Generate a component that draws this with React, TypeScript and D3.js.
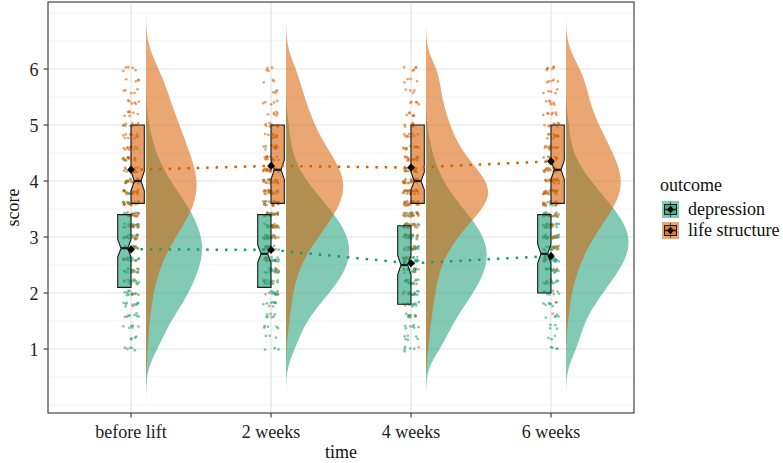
import React, { useMemo } from "react";
import * as d3 from "d3";

// time points and outcomes
const times = ["before lift", "2 weeks", "4 weeks", "6 weeks"];
const outcomes = ["depression", "life structure"];
const colors = ["#1B9E77", "#D95F02"];

// score levels the item means fall on
const levels = [
  1.0, 1.2, 1.4, 1.6, 1.8, 2.0, 2.2, 2.4, 2.6, 2.8, 3.0, 3.2, 3.4, 3.6, 3.8, 4.0,
  4.2, 4.4, 4.6, 4.8, 5.0, 5.2, 5.4, 5.6, 5.8, 6.0,
];

// number of respondents at each level, per time
const depressionCounts = [
  [4, 4, 5, 7, 9, 11, 12, 13, 14, 15, 14, 13, 12, 10, 8, 6, 4, 3, 2, 1, 1, 0, 0, 0, 0, 0],
  [3, 3, 4, 6, 8, 11, 13, 15, 16, 16, 16, 14, 12, 10, 7, 5, 3, 2, 1, 1, 1, 0, 0, 0, 0, 0],
  [5, 5, 6, 8, 10, 12, 14, 15, 16, 16, 15, 13, 11, 8, 6, 4, 3, 2, 1, 1, 0, 0, 0, 0, 0, 0],
  [4, 3, 4, 5, 7, 9, 11, 13, 15, 16, 16, 15, 13, 11, 8, 6, 4, 2, 1, 1, 1, 0, 0, 0, 0, 0],
];
const lifeCounts = [
  [1, 0, 1, 1, 1, 2, 2, 3, 4, 5, 7, 9, 11, 12, 13, 13, 12, 11, 10, 9, 8, 7, 6, 5, 4, 5],
  [0, 0, 1, 1, 1, 2, 2, 3, 4, 6, 8, 10, 12, 14, 15, 15, 14, 12, 10, 8, 7, 6, 5, 4, 3, 4],
  [1, 1, 1, 2, 2, 3, 3, 4, 5, 7, 9, 12, 15, 19, 20, 19, 15, 12, 10, 8, 7, 6, 5, 4, 4, 5],
  [0, 0, 0, 1, 1, 1, 2, 3, 4, 5, 7, 9, 11, 13, 15, 15, 14, 13, 11, 10, 8, 7, 6, 5, 5, 6],
];

// boxplot summaries
const depQ1 = [2.1, 2.1, 1.8, 2.0];
const depMedian = [2.8, 2.7, 2.5, 2.7];
const depQ3 = [3.4, 3.4, 3.2, 3.4];
const lifeQ1 = [3.6, 3.6, 3.6, 3.6];
const lifeMedian = [4.0, 4.2, 4.0, 4.2];
const lifeQ3 = [5.0, 5.0, 5.0, 5.0];

// group means
const depMean = [2.78, 2.77, 2.53, 2.66];
const lifeMean = [4.2, 4.27, 4.24, 4.35];

const yTicks = [1, 2, 3, 4, 5, 6];

const W = 783,
  H = 463;
const left = 48,
  right = 634,
  top = 2,
  bottom = 413;
const FONT = "'Liberation Serif', 'Times New Roman', Times, serif";

const x = d3.scalePoint().domain(times).range([left, right]).padding(0.593);
const y = d3.scaleLinear().domain([0, 7]).range([405, 13]);

function expand(counts) {
  const v = [];
  counts.forEach((c, i) => {
    for (let k = 0; k < c; k++) v.push(levels[i]);
  });
  return v;
}

function kde(values) {
  const n = values.length;
  const sd = d3.deviation(values);
  const iqr = d3.quantile(values, 0.75) - d3.quantile(values, 0.25);
  const bw = 0.9 * Math.min(sd, iqr / 1.34) * Math.pow(n, -0.2);
  const lo = d3.min(values) - 3 * bw,
    hi = d3.max(values) + 3 * bw;
  const grid = d3.range(0, 257).map((i) => lo + ((hi - lo) * i) / 256);
  return grid.map((g) => ({
    s: g,
    d:
      d3.sum(values, (v) => Math.exp(-0.5 * ((g - v) / bw) ** 2)) /
      (n * bw * Math.sqrt(2 * Math.PI)),
  }));
}

// deterministic jitter offset in [-1, 1]
const hash = (k) => {
  const s = Math.sin(k * 12.9898 + 78.233) * 43758.5453;
  return (s - Math.floor(s)) * 2 - 1;
};

export default function App() {
  const groups = useMemo(() => {
    return [depressionCounts, lifeCounts].map((set, o) =>
      set.map((counts, t) => {
        const values = expand(counts);
        return { o, t, values, dens: kde(values) };
      })
    );
  }, []);

  const maxD = d3.max(groups.flat(), (g) => d3.max(g.dens, (p) => p.d));
  const wScale = d3.scaleLinear().domain([0, maxD]).range([0, 63]);

  const stats = [
    { q1: depQ1, med: depMedian, q3: depQ3, mean: depMean },
    { q1: lifeQ1, med: lifeMedian, q3: lifeQ3, mean: lifeMean },
  ];

  // jittered points
  const pts = [];
  let k = 0;
  groups.forEach((set) =>
    set.forEach((g) => {
      g.values.forEach((v) => {
        k++;
        pts.push({
          cx: x(times[g.t]) + hash(k) * 8,
          cy: y(v + hash(k + 5000) * 0.04),
          o: g.o,
        });
      });
    })
  );

  const minor = d3.range(0, 7.01, 0.5).filter((v) => !yTicks.includes(v));

  const boxW = 13.3;
  const boxPath = (x0, x1, q1, med, q3, notch) => {
    const cx = (x0 + x1) / 2,
      nw = (x1 - x0) / 4;
    return `M${x0},${y(q3)}L${x1},${y(q3)}L${x1},${y(med + notch)}L${cx + nw},${y(
      med
    )}L${x1},${y(med - notch)}L${x1},${y(q1)}L${x0},${y(q1)}L${x0},${y(
      med - notch
    )}L${cx - nw},${y(med)}L${x0},${y(med + notch)}Z`;
  };

  const diamond = (cx, cy, r = 3.8) =>
    `M${cx},${cy - r * 1.1}L${cx + r},${cy}L${cx},${cy + r * 1.1}L${cx - r},${cy}Z`;

  const meanLine = d3
    .line()
    .x((d, i) => x(times[i]))
    .y((d) => y(d));

  return (
    <svg
      width={W}
      height={H}
      style={{ position: "absolute", left: 0, top: 0, background: "#fff", fontFamily: FONT }}
    >
      <rect x={left} y={top} width={right - left} height={bottom - top} fill="#fff" />
      {minor.map((v) => (
        <line key={"mn" + v} x1={left} x2={right} y1={y(v)} y2={y(v)} stroke="#EBEBEB" strokeWidth={0.6} />
      ))}
      {yTicks.map((v) => (
        <line key={"mj" + v} x1={left} x2={right} y1={y(v)} y2={y(v)} stroke="#E3E3E3" strokeWidth={1.2} />
      ))}
      {times.map((t) => (
        <line key={"vx" + t} x1={x(t)} x2={x(t)} y1={top} y2={bottom} stroke="#E3E3E3" strokeWidth={1.2} />
      ))}

      {/* points */}
      {pts.map((p, i) => (
        <circle key={i} cx={p.cx} cy={p.cy} r={1.4} fill={colors[p.o]} fillOpacity={0.55} />
      ))}

      {/* boxes */}
      {stats.map((s, o) =>
        times.map((t, i) => {
          const cx = x(t);
          const x0 = o === 0 ? cx - boxW : cx;
          const x1 = x0 + boxW;
          const n = groups[o][i].values.length;
          const notch = (1.58 * (s.q3[i] - s.q1[i])) / Math.sqrt(n);
          const c = (x0 + x1) / 2;
          return (
            <g key={"b" + o + i}>
              <path
                d={boxPath(x0, x1, s.q1[i], s.med[i], s.q3[i], notch)}
                fill={colors[o]}
                fillOpacity={0.6}
                stroke="#1a1a1a"
                strokeWidth={1.1}
              />
              <line x1={c - boxW / 4} x2={c + boxW / 4} y1={y(s.med[i])} y2={y(s.med[i])} stroke="#1a1a1a" strokeWidth={2.2} />
            </g>
          );
        })
      )}

      {/* half densities */}
      {groups.map((set, o) =>
        set.map((g) => {
          const base = x(times[g.t]) + 15;
          const area = d3
            .area()
            .y((p) => y(p.s))
            .x0(base)
            .x1((p) => base + wScale(p.d));
          return <path key={"d" + o + g.t} d={area(g.dens)} fill={colors[o]} fillOpacity={0.55} />;
        })
      )}

      {/* mean lines and points */}
      {stats.map((s, o) => (
        <path
          key={"ml" + o}
          d={meanLine(s.mean)}
          fill="none"
          stroke={colors[o]}
          strokeWidth={2.5}
          strokeDasharray="2.5 6.9"
        />
      ))}
      {stats.map((s, o) =>
        s.mean.map((m, i) => <path key={"mp" + o + i} d={diamond(x(times[i]), y(m))} fill="#000" />)
      )}

      <rect x={left} y={top} width={right - left} height={bottom - top} fill="none" stroke="#333" strokeWidth={1.1} />

      {/* y axis */}
      {yTicks.map((v) => (
        <g key={"yt" + v}>
          <line x1={left - 4.5} x2={left} y1={y(v)} y2={y(v)} stroke="#333" strokeWidth={1.1} />
          <text x={38.5} y={y(v) + 6.5} textAnchor="end" fontSize={18} fill="#222">
            {v}
          </text>
        </g>
      ))}
      <text transform={`translate(19,${(top + bottom) / 2}) rotate(-90)`} textAnchor="middle" fontSize={18} fill="#111">
        score
      </text>

      {/* x axis */}
      {times.map((t) => (
        <g key={"xt" + t}>
          <line x1={x(t)} x2={x(t)} y1={bottom} y2={bottom + 4.5} stroke="#333" strokeWidth={1.1} />
          <text x={x(t)} y={438} textAnchor="middle" fontSize={18} fill="#222">
            {t}
          </text>
        </g>
      ))}
      <text x={(left + right) / 2} y={458} textAnchor="middle" fontSize={18} fill="#111">
        time
      </text>

      {/* legend */}
      <text x={660} y={191} fontSize={18} fill="#111">
        outcome
      </text>
      {outcomes.map((name, o) => {
        const ky = 201 + o * 21;
        const kx = 662;
        const cx = kx + 8.5,
          cy = ky + 8.5;
        return (
          <g key={"lg" + name}>
            <rect x={kx} y={ky} width={17} height={17} fill={colors[o]} fillOpacity={0.55} />
            <line x1={cx} x2={cx} y1={ky + 1} y2={ky + 16} stroke="#1a1a1a" strokeWidth={0.8} />
            <rect x={kx + 2.5} y={ky + 3.5} width={12} height={10} fill={colors[o]} fillOpacity={0.6} stroke="#1a1a1a" strokeWidth={1} />
            <line x1={kx + 2.5} x2={kx + 14.5} y1={cy} y2={cy} stroke="#1a1a1a" strokeWidth={1.4} />
            <path d={diamond(cx, cy, 3.3)} fill="#000" />
            <text x={688} y={cy + 5.5} fontSize={18} fill="#111">
              {name}
            </text>
          </g>
        );
      })}
    </svg>
  );
}
